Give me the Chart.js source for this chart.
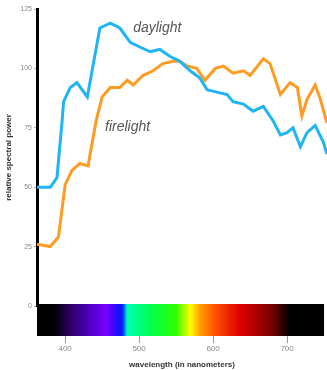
<!DOCTYPE html>
<html>
<head>
<meta charset="utf-8">
<script src="https://cdn.jsdelivr.net/npm/chart.js@4"></script>
<style>
    html, body { margin: 0; padding: 0; background: #fff; }
</style>
</head>
<body>
<canvas id="myChart" width="327" height="370"></canvas>
<script>
const daylightNm = [362, 380, 389, 396, 398, 407, 416, 430, 447, 461, 474, 488, 501, 515, 528, 542, 555, 569, 582, 592, 605, 619, 627, 641, 654, 668, 681, 691, 700, 708, 718, 727, 738, 749, 754];
const daylightPower = [50, 50, 54, 78, 86, 92, 94, 88, 117, 119, 117, 111, 109, 107, 108, 105, 103, 99, 96, 91, 90, 89, 86, 85, 82, 84, 78, 72, 73, 75, 67, 73, 76, 69, 64];

const firelightNm = [362, 380, 391, 400, 409, 420, 431, 442, 450, 461, 474, 484, 492, 505, 519, 532, 546, 555, 565, 578, 589, 603, 614, 627, 641, 650, 668, 677, 691, 704, 714, 720, 727, 738, 745, 754];
const firelightPower = [26, 25, 29, 51, 57, 60, 59, 78, 88, 92, 92, 95, 93, 97, 99, 102, 103, 103, 101, 100, 95, 100, 101, 98, 99, 97, 104, 102, 89, 94, 92, 80, 87, 93, 87, 77];

const yTicks = [0, 25, 50, 75, 100, 125];
const xTicks = [400, 500, 600, 700];

// colour stops of the spectrum strip under the plot
const spectrumNm = [362, 385, 405, 435, 455, 474, 478, 484, 515, 550, 569, 582, 603, 636, 677, 704, 750];
const spectrumColors = ["#000000", "#000000", "#2a0060", "#5200c8", "#7a00ff", "#1010ff", "#0030ff", "#00ffb0", "#00ff50", "#30ff00", "#ffff00", "#ffa000", "#ff5000", "#e00000", "#800000", "#000000", "#000000"];

const labelText = ["daylight", "firelight"];
const labelNm = [492, 454];
const labelPower = [117, 75.5];

function toPoints(xs, ys) {
    return xs.map((x, i) => ({ x: x, y: ys[i] }));
}

const spectrumPlugin = {
    id: "spectrum",
    afterDraw(chart) {
        const ctx = chart.ctx;
        const xs = chart.scales.x;
        const ys = chart.scales.y;
        const x0 = xs.getPixelForValue(spectrumNm[0]);
        const x1 = xs.getPixelForValue(spectrumNm[spectrumNm.length - 1]);
        const top = ys.getPixelForValue(0) - 2;
        const grad = ctx.createLinearGradient(x0, 0, x1, 0);
        spectrumNm.forEach((nm, i) => {
            grad.addColorStop((nm - spectrumNm[0]) / (spectrumNm[spectrumNm.length - 1] - spectrumNm[0]), spectrumColors[i]);
        });
        ctx.save();
        ctx.fillStyle = grad;
        ctx.fillRect(x0, top, x1 - x0, 32);

        ctx.fillStyle = "#555";
        ctx.font = "italic 14px 'Liberation Sans', Arial, sans-serif";
        ctx.textBaseline = "middle";
        ctx.textAlign = "left";
        labelText.forEach((t, i) => {
            ctx.fillText(t, xs.getPixelForValue(labelNm[i]), ys.getPixelForValue(labelPower[i]));
        });
        ctx.restore();
    },
};

document.addEventListener("DOMContentLoaded", function () {
    const ctx = document.getElementById("myChart");

    new Chart(ctx, {
        type: "line",
        data: {
            datasets: [
                {
                    label: "daylight",
                    data: toPoints(daylightNm, daylightPower),
                    borderColor: "#1fb4f5",
                    borderWidth: 3,
                    pointRadius: 0,
                    tension: 0,
                },
                {
                    label: "firelight",
                    data: toPoints(firelightNm, firelightPower),
                    borderColor: "#ff9b20",
                    borderWidth: 3,
                    pointRadius: 0,
                    tension: 0,
                },
            ],
        },
        options: {
            responsive: false,
            animation: false,
            layout: { padding: { top: 9, right: 0, left: 0, bottom: 0 } },
            plugins: {
                legend: { display: false },
                tooltip: { enabled: false },
            },
            scales: {
                x: {
                    type: "linear",
                    min: 362,
                    max: 754,
                    afterFit: (scale) => { scale.height = 64; },
                    afterBuildTicks: (scale) => {
                        scale.ticks = xTicks.map((v) => ({ value: v }));
                    },
                    border: { display: false },
                    grid: {
                        drawOnChartArea: false,
                        tickLength: 37,
                        color: "#999",
                    },
                    ticks: {
                        padding: 1,
                        color: "#888",
                        font: { size: 8, family: "'Liberation Sans', Arial, sans-serif" },
                    },
                    title: {
                        display: true,
                        text: "wavelength (in nanometers)",
                        color: "#333",
                        padding: { top: 0, bottom: 0 },
                        font: { size: 8, weight: "bold", family: "'Liberation Sans', Arial, sans-serif" },
                    },
                },
                y: {
                    min: 0,
                    max: 125,
                    afterFit: (scale) => { scale.width = 37; },
                    afterBuildTicks: (scale) => {
                        scale.ticks = yTicks.map((v) => ({ value: v }));
                    },
                    border: { display: true, color: "#000", width: 3 },
                    grid: {
                        drawOnChartArea: false,
                        tickLength: 3,
                        color: "#aaa",
                    },
                    ticks: {
                        padding: 2,
                        color: "#888",
                        font: { size: 7, family: "'Liberation Sans', Arial, sans-serif" },
                    },
                    title: {
                        display: true,
                        text: "relative spectral power",
                        color: "#333",
                        padding: { top: 4, bottom: 2 },
                        font: { size: 8, weight: "bold", family: "'Liberation Sans', Arial, sans-serif" },
                    },
                },
            },
        },
        plugins: [spectrumPlugin],
    });
});
</script>
</body>
</html>
